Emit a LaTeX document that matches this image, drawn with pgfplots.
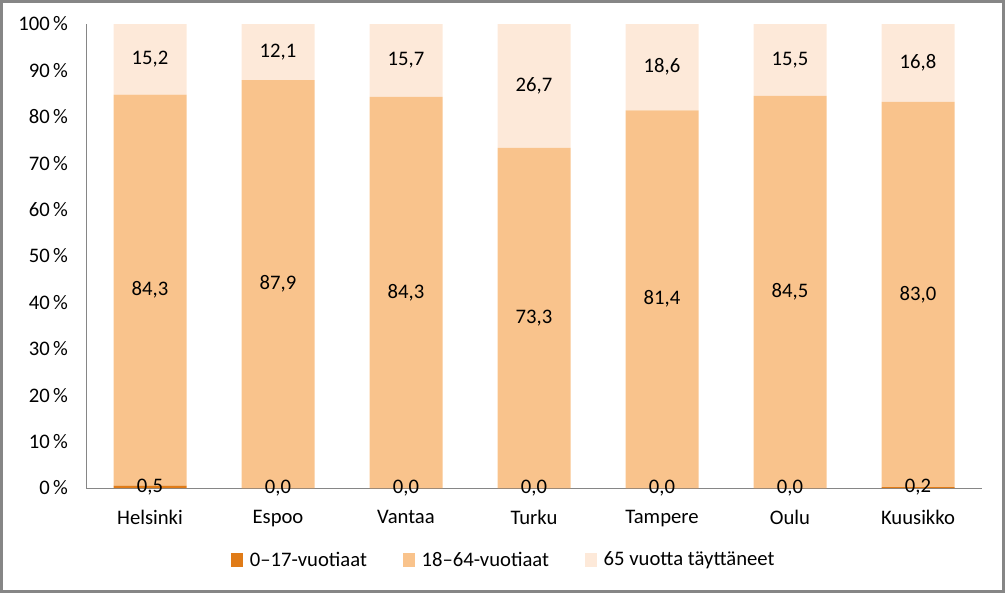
\documentclass[border=0pt]{standalone}
\usepackage{pgfplots}
\pgfplotsset{compat=1.18}
\usepackage{fontspec}
\setmainfont{Carlito}
\definecolor{cA}{HTML}{E07B17}
\definecolor{cB}{HTML}{F9C38C}
\definecolor{cC}{HTML}{FDE9D9}
\definecolor{frame}{HTML}{868686}
\begin{document}
\begin{tikzpicture}
\draw[draw=frame, line width=2.2pt] (1.1pt,-1.1pt) rectangle (752.65pt,-443.65pt);
\begin{axis}[
  at={(64.5pt,-366pt)}, anchor=south west,
  scale only axis, width=672pt, height=348pt,
  ybar stacked, bar width=54.75pt,
  stacked ignores zero=false,
  xmin=-0.5, xmax=6.5, ymin=0, ymax=100,
  xtick={0,...,6},
  xticklabels={Helsinki,Espoo,Vantaa,Turku,Tampere,Oulu,Kuusikko},
  ytick={0,10,...,100},
  yticklabel={\pgfmathprintnumber[assume math mode=true]{\tick}\,\%},
  axis x line*=bottom, axis y line*=left,
  axis line style={draw=frame, line width=0.6pt},
  x axis line style={-}, y axis line style={-},
  major tick length=0pt,
  tick label style={font=\fontsize{15.5}{18}\selectfont},
  xticklabel style={yshift=-13pt},
  yticklabel style={xshift=-10pt},
  every axis plot/.append style={draw=none},
  nodes near coords={\pgfmathprintnumber[assume math mode=true,fixed,fixed zerofill,precision=1,use comma]{\pgfplotspointmeta}},
  every node near coord/.append style={font=\fontsize{15.5}{18}\selectfont, anchor=center, text=black},
  legend style={at={(0.469,-0.155)}, anchor=center, draw=none, legend columns=3, font=\fontsize{15.5}{18}\selectfont,
    /tikz/every even column/.append style={column sep=22pt},
    nodes={inner xsep=5pt}},
  legend image code/.code={\fill[#1] (0pt,-5pt) rectangle (9pt,5pt);},
  clip=false,
]
\addplot[fill=cA] coordinates {(0,0.5) (1,0.0) (2,0.0) (3,0.0) (4,0.0) (5,0.0) (6,0.2)};
\addplot[fill=cB] coordinates {(0,84.3) (1,87.9) (2,84.3) (3,73.3) (4,81.4) (5,84.5) (6,83.0)};
\addplot[fill=cC] coordinates {(0,15.2) (1,12.1) (2,15.7) (3,26.7) (4,18.6) (5,15.5) (6,16.8)};
\legend{0–17-vuotiaat,18–64-vuotiaat,65 vuotta täyttäneet}
\end{axis}
\end{tikzpicture}
\end{document}
